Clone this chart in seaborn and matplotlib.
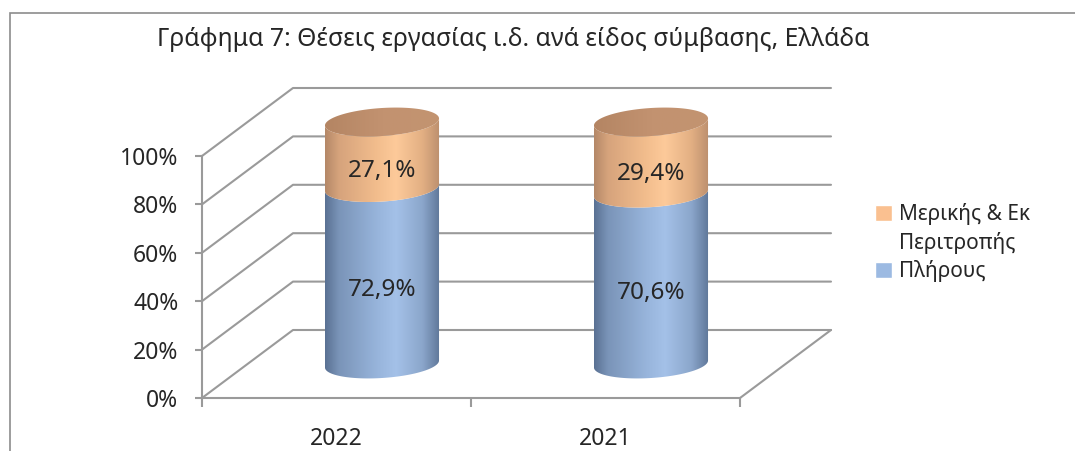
import numpy as np
import pandas as pd
import matplotlib
matplotlib.use("Agg")
import matplotlib.pyplot as plt
import seaborn as sns
from matplotlib.colors import LinearSegmentedColormap
from matplotlib.patches import Polygon, Patch, Rectangle

# data
years = ["2022", "2021"]
full_time = [72.9, 70.6]
part_time = [27.1, 29.4]
legend_labels = ["Μερικής & Εκ", "Περιτροπής", "Πλήρους"]
title = "Γράφημα 7: Θέσεις εργασίας ι.δ. ανά είδος σύμβασης, Ελλάδα"
yticks = [0, 20, 40, 60, 80, 100]

BLUE = "#9CBAE2"
ORANGE = "#FAC090"
GRID = "#9A9A9A"

blue_cmap = LinearSegmentedColormap.from_list("b", [
    (0.0, "#5A7193"), (0.12, "#7A94B8"), (0.45, "#97B4DB"),
    (0.62, "#A4C1E8"), (0.85, "#8BA6CB"), (1.0, "#5F7799")])
orange_cmap = LinearSegmentedColormap.from_list("o", [
    (0.0, "#B48868"), (0.12, "#D6A37C"), (0.45, "#F2BD8D"),
    (0.62, "#FDCA9A"), (0.85, "#E2AF83"), (1.0, "#BC8F6E")])
cap_cmap = LinearSegmentedColormap.from_list("c", [
    (0.0, "#B48563"), (0.5, "#C29270"), (1.0, "#C39470")])

sns.set_style("white")
plt.rcParams["font.family"] = ["Noto Sans", "DejaVu Sans"]

W, H = 1075, 451
fig = plt.figure(figsize=(W / 100, H / 100), dpi=100)
ax = fig.add_axes([202 / W, (H - 398) / H, 538 / W, 242 / H])

df = pd.DataFrame({"year": years, "full": full_time, "part": part_time})
df["total"] = df["full"] + df["part"]

bar_w = 0.424
sns.barplot(data=df, x="year", y="total", color=ORANGE, width=bar_w, ax=ax,
            saturation=1)
sns.barplot(data=df, x="year", y="full", color=BLUE, width=bar_w, ax=ax,
            saturation=1)
ax.set_xlim(-0.5, 1.5)
ax.set_ylim(0, 100)
ax.set_autoscale_on(False)
ax.set_xlabel("")
ax.set_ylabel("")

# depth of the 3d box, converted from pixels to data units
ppx = 538 / 2.0
ppy = 242 / 100.0
ddx, ddy = 91 / ppx, 68 / ppy
b = 14 / ppy
k = 3.5 / ppy

n = len(years)
tot_patches = ax.patches[:n]
full_patches = ax.patches[n:2 * n]
geom = []
for pt, pf in zip(tot_patches, full_patches):
    cx = pf.get_x() + pf.get_width() / 2 + ddx / 2
    geom.append((cx, pf.get_width() / 2, pf.get_height(), pt.get_height()))
for p in list(ax.patches):
    p.remove()


def arc(cx, cy, a, t):
    return cx + a * np.cos(t), cy + b * np.sin(t) + k * np.cos(t)


def shade(verts, cmap, cx, a, ylo, yhi, z):
    poly = Polygon(verts, closed=True, facecolor="none", edgecolor="none",
                   clip_on=False)
    ax.add_patch(poly)
    grad = np.linspace(0, 1, 256).reshape(1, -1)
    im = ax.imshow(grad, cmap=cmap, aspect="auto", zorder=z,
                   extent=[cx - a, cx + a, ylo, yhi], interpolation="bilinear")
    im.set_clip_box(fig.bbox)
    im.set_clip_path(poly)


def body(cx, a, y0, y1, cmap, z):
    t = np.linspace(np.pi, 2 * np.pi, 80)
    xb, yb = arc(cx, y0 + ddy / 2, a, t)
    xt, yt = arc(cx, y1 + ddy / 2, a, t[::-1])
    verts = np.column_stack([np.r_[xb, xt], np.r_[yb, yt]])
    shade(verts, cmap, cx, a, y0 + ddy / 2 - b - k - 1,
          y1 + ddy / 2 + b + k + 1, z)


for cx, a, full, total in geom:
    body(cx, a, 0, full, blue_cmap, 3)
    body(cx, a, full, total, orange_cmap, 3)
    t = np.linspace(0, 2 * np.pi, 160)
    xc, yc = arc(cx, total + ddy / 2, a, t)
    shade(np.column_stack([xc, yc]), cap_cmap, cx, a,
          total + ddy / 2 - b - k - 1, total + ddy / 2 + b + k + 1, 4)

# value labels
for (cx, a, full, total), pv in zip(geom, part_time):
    ax.text(cx, full / 2 + ddy / 2 - b, f"{full:.1f}".replace(".", ",") + "%",
            ha="center", va="center", fontsize=17.5, zorder=6)
    ax.text(cx, (full + total) / 2 + ddy / 2 - b - 0.8,
            f"{pv:.1f}".replace(".", ",") + "%",
            ha="center", va="center", fontsize=17.5, zorder=6)

# walls and floor
x0, x1 = -0.5, 1.5
for v in yticks:
    ax.plot([x0, x0 + ddx, x1 + ddx], [v, v + ddy, v + ddy], color=GRID,
            lw=1.5, clip_on=False, zorder=1)
ax.plot([x1, x1 + ddx], [0, ddy], color=GRID, lw=1.5, clip_on=False, zorder=1)

sns.despine(ax=ax, top=True, right=True)
for s in ["left", "bottom"]:
    ax.spines[s].set_color(GRID)
    ax.spines[s].set_linewidth(1.5)
ax.set_yticks(yticks)
ax.set_yticklabels([f"{v}%" for v in yticks])
ax.tick_params(axis="y", length=5, width=1.5, color=GRID, pad=12,
               labelsize=16.5, left=True)
ax.set_xticks([-0.5, 0.5, 1.5], minor=True)
ax.tick_params(axis="x", which="minor", length=6.5, width=1.5, color=GRID,
               bottom=True)
ax.tick_params(axis="x", which="major", length=0, pad=21, labelsize=16.5)
ax.set_facecolor("none")

fig.text(513 / W, 1 - 40 / H, title, ha="center", va="center", fontsize=17.8)

handles = [Patch(facecolor=ORANGE), Patch(alpha=0), Patch(facecolor=BLUE)]
fig.legend(handles, legend_labels, loc="upper left",
           bbox_to_anchor=(867 / W, 1 - 195 / H), frameon=False,
           fontsize=15, handlelength=0.8, handleheight=0.8,
           handletextpad=0.35, labelspacing=0.3, borderaxespad=0)

fig.patches.append(Rectangle((10 / W, -0.2), 1.2, 1.2 - 13 / H,
                             transform=fig.transFigure, fill=False,
                             edgecolor="#8C8C8C", lw=1.2))

fig.savefig("out.png", dpi=100)
